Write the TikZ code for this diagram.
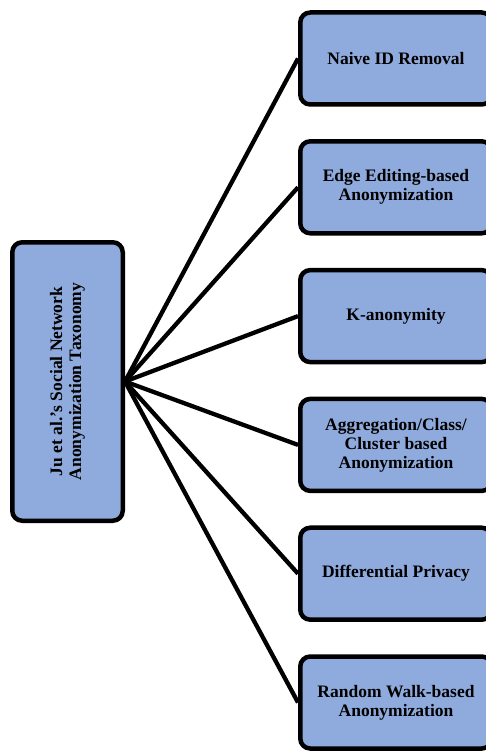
\documentclass[tikz,border=0pt]{standalone}
\usepackage{fontspec}
\setmainfont{Liberation Serif}
\definecolor{boxblue}{RGB}{143,170,220}
\begin{document}
\begin{tikzpicture}[x=1pt,y=1pt,
  tbox/.style={draw=black, fill=boxblue, line width=4.5pt, rounded corners=10pt,
    minimum width=191.5pt, minimum height=92pt, align=center,
    font=\fontsize{17.5}{19}\selectfont\bfseries, inner sep=0pt},
  rootbox/.style={draw=black, fill=boxblue, line width=4.5pt, rounded corners=10pt,
    minimum width=110.5pt, minimum height=278.5pt, inner sep=0pt},
  link/.style={draw=black, line width=4.3pt}]
\useasboundingbox (0,0) rectangle (485,-751);
\node[rootbox] (root) at (67.5,-381.5) {};
\node[rotate=90, align=center, font=\fontsize{17.5}{19}\selectfont\bfseries] (roottext) at (root.center) {Ju et al.’s Social Network\\Anonymization Taxonomy};
\node[tbox] (n1) at (396,-58.5) {Naive ID Removal};
\node[tbox] (n2) at (396,-187.3) {Edge Editing-based\\Anonymization};
\node[tbox] (n3) at (396,-316.1) {K-anonymity};
\node[tbox] (n4) at (396,-444.9) {Aggregation/Class/\\Cluster based\\Anonymization};
\node[tbox] (n5) at (396,-573.7) {Differential Privacy};
\node[tbox] (n6) at (396,-702.5) {Random Walk-based\\Anonymization};
\foreach \n in {n1,n2,n3,n4,n5,n6}{
  \draw[link] (root.east) -- (\n.west);
}
\end{tikzpicture}
\end{document}
